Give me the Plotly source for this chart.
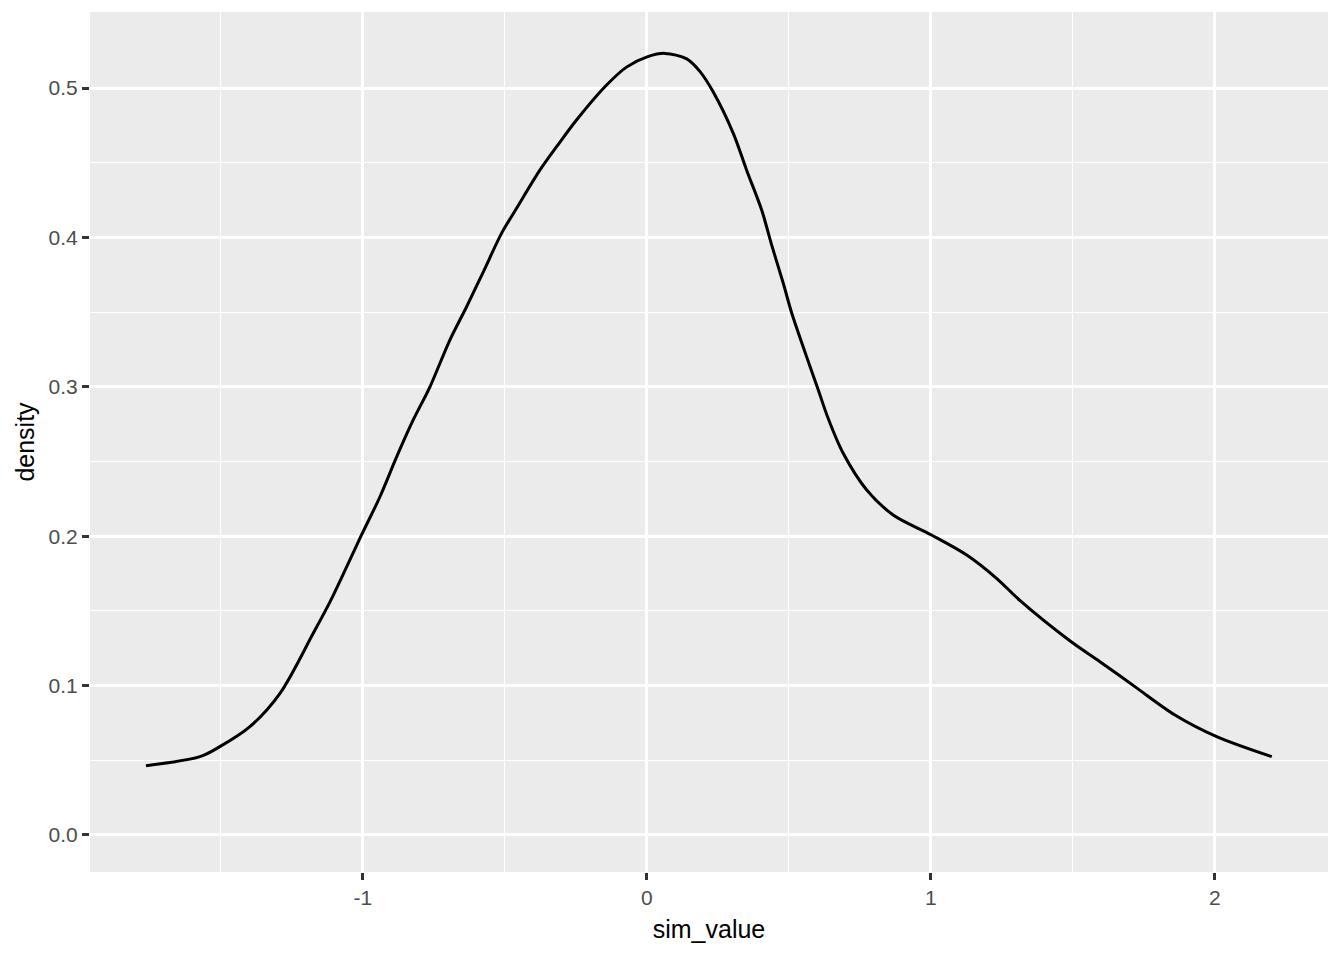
import plotly.graph_objects as go

sim_value = [-1.764, -1.574, -1.504, -1.398, -1.292, -1.175, -1.116, -1.057, -1.005,
             -0.940, -0.881, -0.823, -0.764, -0.694, -0.635, -0.576, -0.512, -0.459,
             -0.377, -0.318, -0.248, -0.142, -0.072, 0.003, 0.063, 0.140, 0.187,
             0.233, 0.304, 0.351, 0.404, 0.439, 0.480, 0.510, 0.562, 0.603, 0.638,
             0.691, 0.774, 0.867, 1.002, 1.126, 1.231, 1.313, 1.489, 1.595, 1.718,
             1.859, 2.006, 2.20]
density = [0.0464, 0.0524, 0.0591, 0.0725, 0.0948, 0.135, 0.156, 0.1796, 0.2008,
           0.2264, 0.2532, 0.2778, 0.300, 0.3313, 0.3536, 0.377, 0.4027, 0.4195,
           0.445, 0.4607, 0.4786, 0.502, 0.514, 0.521, 0.5232, 0.5195, 0.511,
           0.4975, 0.4697, 0.445, 0.4183, 0.3950, 0.3693, 0.3492, 0.3202, 0.298, 0.2789,
           0.2555, 0.2309, 0.2142, 0.2008, 0.1874, 0.1718, 0.157, 0.130, 0.116, 0.0993,
           0.0803, 0.0658, 0.0524]

x_ticks = [-1, 0, 1, 2]
y_ticks = [0.0, 0.1, 0.2, 0.3, 0.4, 0.5]

fig = go.Figure(go.Scatter(x=sim_value, y=density, mode="lines",
                           line=dict(color="black", width=3, shape="spline", smoothing=0.9),
                           showlegend=False, hoverinfo="skip"))

font = "Liberation Sans, Arial, sans-serif"
axis_common = dict(
    showline=False, zeroline=False,
    showgrid=True, gridcolor="white", gridwidth=2.6,
    ticks="outside", ticklen=7, tickwidth=2.6, tickcolor="#333333",
    tickfont=dict(family=font, size=21, color="#4D4D4D"),
)

fig.update_xaxes(**axis_common, range=[-1.961, 2.398], tickvals=x_ticks,
                 ticktext=[str(v) for v in x_ticks],
                 minor=dict(tickvals=[-1.5, -0.5, 0.5, 1.5], showgrid=True,
                            gridcolor="white", gridwidth=1.4, ticks=""),
                 title=dict(text="sim_value", font=dict(family=font, size=25, color="black"),
                            standoff=12))
fig.update_yaxes(**axis_common, range=[-0.0248, 0.5509], tickvals=y_ticks,
                 ticktext=[f"{v:.1f}" for v in y_ticks],
                 minor=dict(tickvals=[0.05, 0.15, 0.25, 0.35, 0.45], showgrid=True,
                            gridcolor="white", gridwidth=1.4, ticks=""),
                 title=dict(text="density", font=dict(family=font, size=25, color="black"),
                            standoff=6))

fig.update_layout(
    width=1344, height=960,
    margin=dict(l=90, r=16, t=12, b=88, autoexpand=False),
    plot_bgcolor="#EBEBEB", paper_bgcolor="white",
)

fig.write_html("out.html", config={"displayModeBar": False},
               post_script="document.body.style.margin='0';")
